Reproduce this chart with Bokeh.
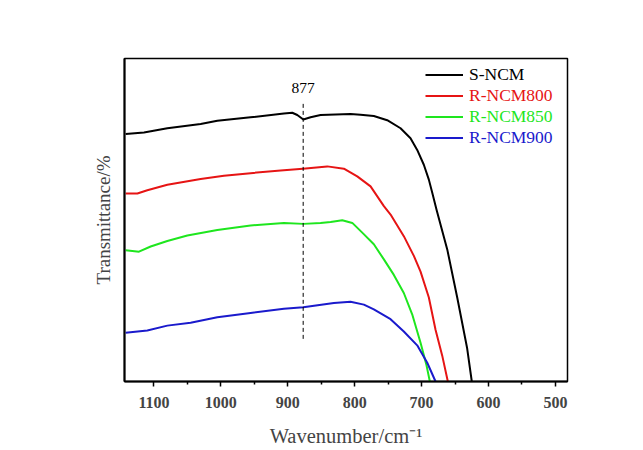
from bokeh.plotting import figure
from bokeh.models import Range1d, FixedTicker, Legend, LegendItem
from bokeh.core.properties import value
from bokeh.embed import file_html
from bokeh.resources import INLINE

# ---- data (wavenumber / cm-1, transmittance in arbitrary offset units) ----
s_ncm_x = [1142.3, 1114.9, 1080.0, 1030.2, 1005.3, 955.6, 905.8, 893.3, 885.8, 876.8,
           865.9, 851.0, 806.2, 791.3, 771.4, 751.4, 731.5, 716.6, 706.6, 696.7,
           689.2, 684.1, 677.7, 661.7, 646.8, 631.9, 625.0]
s_ncm_y = [76.6, 77.1, 78.4, 79.7, 80.7, 81.8, 83.0, 83.2, 82.5, 81.1,
           81.8, 82.5, 82.8, 82.6, 82.2, 80.9, 78.4, 75.3, 71.7, 67.1,
           62.5, 58.4, 53.2, 40.9, 26.0, 10.2, 0.0]

r800_x = [1142.3, 1124.8, 1109.9, 1080.0, 1030.2, 995.4, 955.6, 910.7, 877.4, 841.0,
          816.2, 796.2, 776.3, 756.4, 746.4, 726.6, 711.6, 701.6, 689.2, 679.2,
          669.2, 660.8]
r800_y = [58.2, 58.2, 59.2, 60.9, 62.7, 63.7, 64.5, 65.3, 65.9, 66.6,
          65.9, 63.5, 60.4, 54.3, 51.7, 45.0, 38.9, 34.0, 26.0, 16.0,
          8.0, 0.0]

r850_x = [1142.3, 1122.4, 1104.9, 1080.0, 1050.1, 1005.3, 955.6, 905.8, 876.8, 851.0,
          836.0, 818.6, 803.6, 788.7, 771.4, 756.4, 741.5, 726.6, 714.1, 701.6,
          692.7, 687.7]
r850_y = [40.6, 40.2, 41.8, 43.5, 45.2, 46.9, 48.3, 49.1, 48.8, 49.1,
          49.4, 49.9, 49.1, 46.1, 42.5, 37.8, 33.0, 27.4, 20.8, 12.0,
          5.0, 0.0]

r900_x = [1142.3, 1109.9, 1080.0, 1045.2, 1005.3, 955.6, 905.8, 876.8, 831.1, 806.2,
          786.3, 771.4, 746.4, 726.6, 706.6, 691.6, 679.2]
r900_y = [15.1, 15.8, 17.3, 18.2, 19.9, 21.2, 22.5, 23.0, 24.3, 24.7,
          23.8, 22.3, 19.3, 15.5, 11.2, 5.8, 0.0]

series_names = ["S-NCM", "R-NCM800", "R-NCM850", "R-NCM900"]
series_colors = ["#000000", "#e61414", "#1ee61e", "#1a1acc"]

peak_x = 877
peak_label = "877"
peak_line_y = [13.2, 86.6]
peak_label_y = 90.8

x_ticks = [1100, 1000, 900, 800, 700, 600, 500]
x_minor = [1050, 950, 850, 750, 650, 550]

FONT = "Liberation Serif"

p = figure(width=635, height=449, output_backend="svg", toolbar_location=None,
           x_range=Range1d(1144, 482), y_range=Range1d(0, 100),
           min_border_left=124, min_border_right=68, min_border_top=58, min_border_bottom=66)
p.background_fill_color = "white"
p.border_fill_color = "white"
p.grid.visible = False
p.outline_line_color = "black"
p.outline_line_width = 1.5

# x axis
xa = p.xaxis[0]
xa.ticker = FixedTicker(ticks=x_ticks, minor_ticks=x_minor)
xa.axis_label = "Wavenumber/cm\u207b\u00b9"
xa.axis_label_text_font = FONT
xa.axis_label_text_font_style = "normal"
xa.axis_label_text_font_size = "20.5px"
xa.axis_label_standoff = 14
xa.major_label_text_font = FONT
xa.major_label_text_font_style = "bold"
xa.major_label_text_font_size = "16px"
xa.major_label_standoff = 10
xa.axis_line_width = 2
xa.major_tick_line_width = 1.5
xa.minor_tick_line_width = 1.5
xa.major_tick_in = 0
xa.major_tick_out = 5
xa.minor_tick_in = 0
xa.minor_tick_out = 3

# y axis
ya = p.yaxis[0]
ya.ticker = FixedTicker(ticks=[])
ya.axis_label = "Transmittance/%"
ya.axis_label_text_font = FONT
ya.axis_label_text_font_style = "normal"
ya.axis_label_text_font_size = "19px"
ya.axis_label_standoff = 11
ya.axis_line_width = 2
ya.major_tick_line_color = None
ya.minor_tick_line_color = None
ya.major_label_text_font_size = "0px"

# curves
xs = [s_ncm_x, r800_x, r850_x, r900_x]
ys = [s_ncm_y, r800_y, r850_y, r900_y]
renderers = []
for x, y, c in zip(xs, ys, series_colors):
    r = p.line(x, y, line_color=c, line_width=2, line_join="round")
    renderers.append(r)

# marker line + label
p.line([peak_x, peak_x], peak_line_y, line_color="black", line_width=1, line_dash="4 3")
p.text(x=[peak_x], y=[peak_label_y], text=[peak_label], text_font=value(FONT),
       text_font_size="15.5px", text_align="center", text_baseline="middle", text_color="black")

# legends (one per entry so each label takes its line colour)
row_h = 21
for i, (name, c, r) in enumerate(zip(series_names, series_colors, renderers)):
    lg = Legend(items=[LegendItem(label=name, renderers=[r])],
                location=(301, 233 + (3 - i) * row_h),
                padding=0, margin=0, spacing=0,
                border_line_color=None, background_fill_alpha=0,
                glyph_width=38, glyph_height=row_h, label_height=row_h,
                label_standoff=6,
                label_text_font=FONT, label_text_font_size="17.5px",
                label_text_color=c)
    p.add_layout(lg)

open("out.html", "w").write(file_html(p, INLINE))
